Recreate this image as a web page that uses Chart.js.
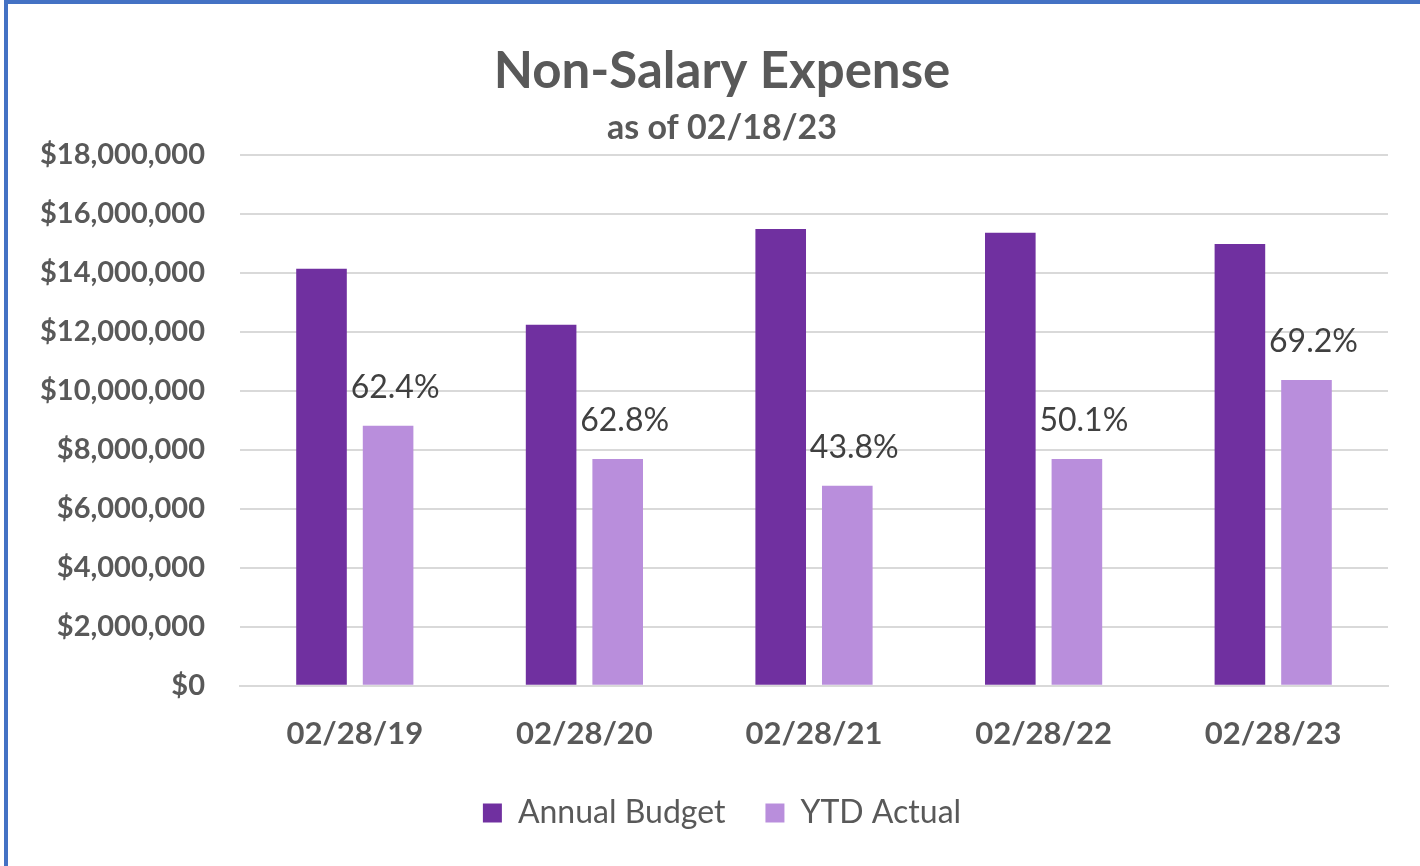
<!DOCTYPE html>
<html>
<head>
<meta charset="utf-8">
<script src="https://cdn.jsdelivr.net/npm/chart.js@4.4.0/dist/chart.umd.min.js"></script>
<style>
  html, body { margin: 0; padding: 0; background: #fff; }
  #wrap {
    position: relative; height: 866px; box-sizing: border-box;
    border-top: 4px solid #4472C4; border-left: 4px solid #4472C4;
    margin-left: 4px; width: 1416px;
  }
  canvas { display: block; }
</style>
</head>
<body>
<div id="wrap"><canvas id="myChart"></canvas></div>
<script>
const categories = ['02/28/19', '02/28/20', '02/28/21', '02/28/22', '02/28/23'];
const annualBudget = [14140000, 12240000, 15490000, 15360000, 14980000];
const ytdActual = [8820000, 7690000, 6780000, 7690000, 10370000];
const pctLabels = ['62.4%', '62.8%', '43.8%', '50.1%', '69.2%'];
const yTicks = [0, 2000000, 4000000, 6000000, 8000000, 10000000, 12000000, 14000000, 16000000, 18000000];

const FONT = 'Lato, "Open Sans", sans-serif';
const GREY = '#595959';

// percent labels above the YTD bars
const pctPlugin = {
  id: 'pctLabels',
  afterDatasetsDraw(chart) {
    const ctx = chart.ctx;
    const meta = chart.getDatasetMeta(1);
    ctx.save();
    ctx.font = '32px ' + FONT;
    ctx.fillStyle = '#404040';
    ctx.textAlign = 'center';
    ctx.textBaseline = 'middle';
    meta.data.forEach((bar, i) => {
      ctx.fillText(pctLabels[i], bar.x + 7, bar.y - 38);
    });
    ctx.restore();
  }
};

const ctx = document.getElementById('myChart');
ctx.width = 1416; ctx.height = 862;

new Chart(ctx, {
  type: 'bar',
  data: {
    labels: categories,
    datasets: [{
      label: 'Annual Budget',
      data: annualBudget,
      backgroundColor: '#7030A0',
      categoryPercentage: 0.58,
      barPercentage: 0.76
    }, {
      label: 'YTD Actual',
      data: ytdActual,
      backgroundColor: '#B98EDC',
      categoryPercentage: 0.58,
      barPercentage: 0.76
    }]
  },
  options: {
    responsive: false,
    animation: false,
    layout: { padding: { left: 48, right: 36, top: 0, bottom: 27 } },
    plugins: {
      title: {
        display: true,
        text: 'Non-Salary Expense',
        color: GREY,
        font: { family: FONT, size: 51, weight: 'bold' },
        padding: { top: 37, bottom: 0 }
      },
      subtitle: {
        display: true,
        text: 'as of 02/18/23',
        color: GREY,
        font: { family: FONT, size: 34, weight: 'bold' },
        padding: { top: 5, bottom: 7 }
      },
      legend: {
        position: 'bottom',
        labels: {
          color: GREY,
          font: { family: FONT, size: 32 },
          boxWidth: 19,
          boxHeight: 19,
          padding: 40
        }
      },
      tooltip: { enabled: false }
    },
    scales: {
      x: {
        afterFit: (scale) => { scale.height -= 26; },
        grid: { display: false, drawTicks: false },
        border: { color: '#D9D9D9', width: 2 },
        ticks: { color: GREY, font: { family: FONT, size: 31, weight: 'bold' }, padding: 30 }
      },
      y: {
        min: 0,
        max: 18000000,
        afterBuildTicks: (scale) => { scale.ticks = yTicks.map(v => ({ value: v })); },
        afterFit: (scale) => {
          scale.width = 184;
          scale._computeLabelArea = () => undefined; // labels reach into the left padding
        },
        grid: { color: '#D9D9D9', lineWidth: 2, drawTicks: false },
        border: { display: false },
        ticks: {
          color: GREY,
          padding: 35,
          font: { family: FONT, size: 29, weight: 'bold' },
          callback: (v) => '$' + Number(v).toLocaleString('en-US')
        }
      }
    }
  },
  plugins: [pctPlugin]
});
</script>
</body>
</html>
